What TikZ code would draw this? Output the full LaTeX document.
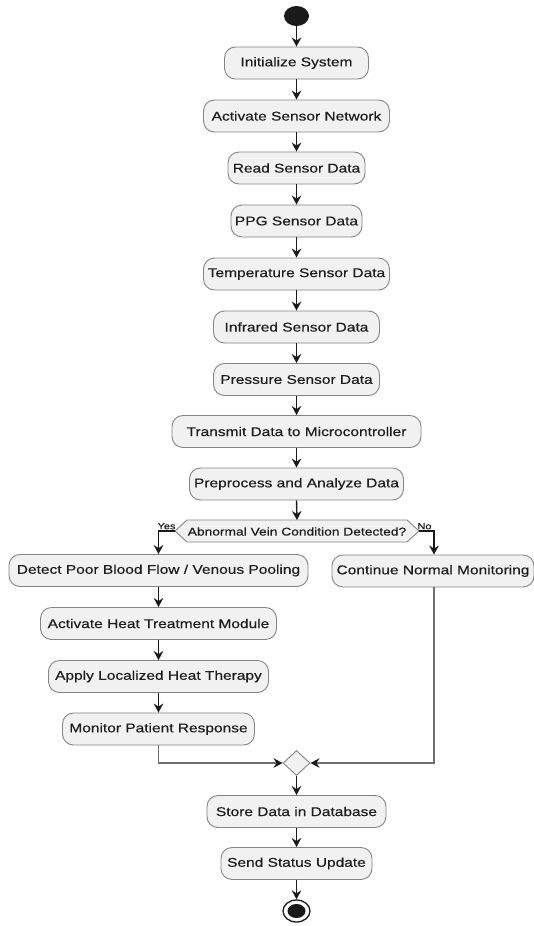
\documentclass[tikz,border=0pt]{standalone}
\usepackage{fontspec}
\setmainfont[FakeStretch=1.22,FakeBold=0.4]{Liberation Sans}
\usetikzlibrary{shapes.geometric,arrows.meta}
\definecolor{boxfill}{HTML}{F1F1F1}
\definecolor{boxline}{HTML}{848484}
\definecolor{txt}{HTML}{1E1E1E}
\definecolor{flow}{HTML}{1A1A1A}
\definecolor{mergeline}{HTML}{6E6E6E}
\tikzset{
  actbox/.style={draw=boxline, fill=boxfill, line width=0.9pt, rounded corners=11pt,
    minimum height=32pt, inner sep=0pt, text=txt, font=\fontsize{12.7}{14}\selectfont},
  arr/.style={draw=flow, line width=1.4pt, -{Stealth[length=9pt,width=9.5pt,inset=3pt]}},
  mergearr/.style={draw=mergeline, line width=1.4pt, -{Stealth[length=9pt,width=9.5pt,inset=3pt,color=flow]}},
  brlabel/.style={inner sep=0pt, text=txt, font=\fontsize{9}{10}\selectfont},
}
\begin{document}
\begin{tikzpicture}[x=1pt,y=-1pt]
\fill[white] (0,0) rectangle (534,926);
\useasboundingbox (0,0) rectangle (534,926);

% start
\node[ellipse, fill=flow, minimum width=25pt, minimum height=20pt, inner sep=0pt] (start) at (296.5,16) {};

% main column
\node[actbox, minimum width=144pt] (init) at (296.5,63) {Initialize System};
\node[actbox, minimum width=186pt] (actnet) at (296.5,116) {Activate Sensor Network};
\node[actbox, minimum width=137pt] (read) at (296.5,168) {Read Sensor Data};
\node[actbox, minimum width=131pt] (ppg) at (296.5,221) {PPG Sensor Data};
\node[actbox, minimum width=186pt] (temp) at (296.5,274) {Temperature Sensor Data};
\node[actbox, minimum width=166pt] (ir) at (296.5,327) {Infrared Sensor Data};
\node[actbox, minimum width=166pt] (press) at (296.5,379.5) {Pressure Sensor Data};
\node[actbox, minimum width=249pt] (trans) at (296.5,431.5) {Transmit Data to Microcontroller};
\node[actbox, minimum width=214pt] (prep) at (296.5,484) {Preprocess and Analyze Data};

% decision hexagon
\draw[draw=boxline, fill=boxfill, line width=0.9pt]
  (175,531) -- (187,520) -- (407,520) -- (419,531) -- (407,542) -- (187,542) -- cycle;
\node[inner sep=0pt, text=txt, font=\fontsize{11.3}{13}\selectfont] (dec) at (297,531.5) {Abnormal Vein Condition Detected?};
\coordinate (decT) at (297,520);
\coordinate (decL) at (175,531);
\coordinate (decR) at (419,531);
\coordinate (yesC) at (158.5,531);
\coordinate (noC) at (434,531);
\node[brlabel, anchor=south] (yes) at (166.5,529.5) {Yes};
\node[brlabel, anchor=south] (no) at (424.5,529.5) {No};

% left branch
\node[actbox, minimum width=299pt] (detect) at (158.5,570.5) {Detect Poor Blood Flow / Venous Pooling};
\node[actbox, minimum width=236pt] (heat) at (158.5,623.5) {Activate Heat Treatment Module};
\node[actbox, minimum width=220pt] (apply) at (158.5,676.5) {Apply Localized Heat Therapy};
\node[actbox, minimum width=192pt] (mon) at (158.5,729) {Monitor Patient Response};

% right branch
\node[actbox, minimum width=202pt] (cont) at (433,571) {Continue Normal Monitoring};

% merge
\node[diamond, draw=boxline, fill=boxfill, line width=0.9pt, minimum width=27pt, minimum height=25pt, inner sep=0pt] (merge) at (296.5,763) {};

% bottom
\node[actbox, minimum width=179pt] (store) at (296.5,811.5) {Store Data in Database};
\node[actbox, minimum width=151pt] (send) at (296.5,863.5) {Send Status Update};
\node[ellipse, draw=flow, fill=white, line width=1.3pt, minimum width=27pt, minimum height=22pt, inner sep=0pt] (stop) at (296.5,911) {};
\node[ellipse, fill=flow, minimum width=18pt, minimum height=14pt, inner sep=0pt] (stopin) at (296.5,911) {};

% connectors
\draw[arr] (start.south) -- (init.north);
\draw[arr] (init.south) -- (actnet.north);
\draw[arr] (actnet.south) -- (read.north);
\draw[arr] (read.south) -- (ppg.north);
\draw[arr] (ppg.south) -- (temp.north);
\draw[arr] (temp.south) -- (ir.north);
\draw[arr] (ir.south) -- (press.north);
\draw[arr] (press.south) -- (trans.north);
\draw[arr] (trans.south) -- (prep.north);
\draw[arr] (prep.south) -- (decT);

\draw[arr] (decL) -- (yesC) -- (detect.north);
\draw[arr] (decR) -- (noC) -- (noC |- cont.north);
\draw[arr] (detect.south) -- (heat.north);
\draw[arr] (heat.south) -- (apply.north);
\draw[arr] (apply.south) -- (mon.north);

\draw[mergearr] (mon.south) |- (merge.west);
\draw[mergearr] (noC |- cont.south) |- (merge.east);

\draw[arr] (merge.south) -- (store.north);
\draw[arr] (store.south) -- (send.north);
\draw[arr] (send.south) -- (stop.north);
\end{tikzpicture}
\end{document}
